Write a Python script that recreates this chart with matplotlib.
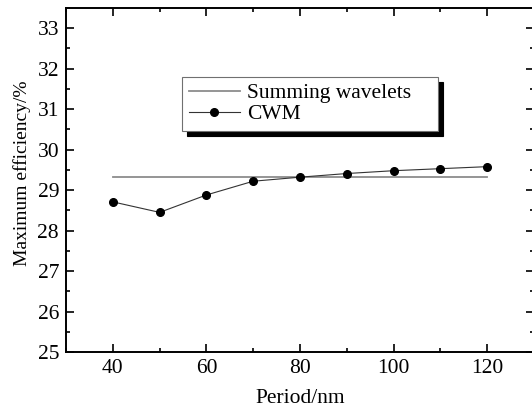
import matplotlib
matplotlib.use("Agg")
import matplotlib.pyplot as plt
from matplotlib.ticker import MultipleLocator

plt.rcParams['font.family'] = ['Liberation Serif', 'DejaVu Serif']
plt.rcParams['mathtext.fontset'] = 'stix'

period = [40, 50, 60, 70, 80, 90, 100, 110, 120]
cwm = [28.71, 28.45, 28.88, 29.22, 29.32, 29.41, 29.48, 29.53, 29.58]
summing_x = [40, 120]
summing = [29.33, 29.33]

fig = plt.figure(figsize=(5.32, 4.12), dpi=100)
ax = fig.add_axes([0.124, 0.1456, 0.880, 0.835])

ax.plot(summing_x, summing, color='#8c8c8c', lw=1.3, label='Summing wavelets')
ax.plot(period, cwm, color='#333333', lw=0.8, marker='o', ms=5.5,
        mfc='black', mec='black', label='CWM')

ax.set_xlim(30, 130)
ax.set_ylim(25, 33.5)
ax.xaxis.set_major_locator(MultipleLocator(20))
ax.xaxis.set_minor_locator(MultipleLocator(10))
ax.yaxis.set_major_locator(MultipleLocator(1))
ax.yaxis.set_minor_locator(MultipleLocator(0.5))
ax.tick_params(which='both', direction='in', top=True, right=True,
               labelsize=15.5, width=1.2)
ax.tick_params(which='major', length=6, pad=5)
ax.tick_params(which='minor', length=3)
for s in ax.spines.values():
    s.set_linewidth(1.4)

ax.set_xlabel('Period/nm', fontsize=15.5, labelpad=8)
ax.set_ylabel('Maximum efficiency/%', fontsize=14, labelpad=6)
ax.yaxis.set_label_coords(-0.075, 0.52)

leg = ax.legend(loc='upper left', bbox_to_anchor=(0.248, 0.5, 0.547, 0.30),
                mode='expand', borderaxespad=0, fontsize=15.5, frameon=True,
                fancybox=False, edgecolor='#707070', framealpha=1,
                handlelength=2.4, handletextpad=0.3, borderpad=0.3,
                labelspacing=0.05,
                shadow={'ox': 3.6, 'oy': -3.6, 'color': 'black', 'alpha': 1})
leg.get_frame().set_linewidth(0.8)

fig.savefig('out.png', dpi=100)
